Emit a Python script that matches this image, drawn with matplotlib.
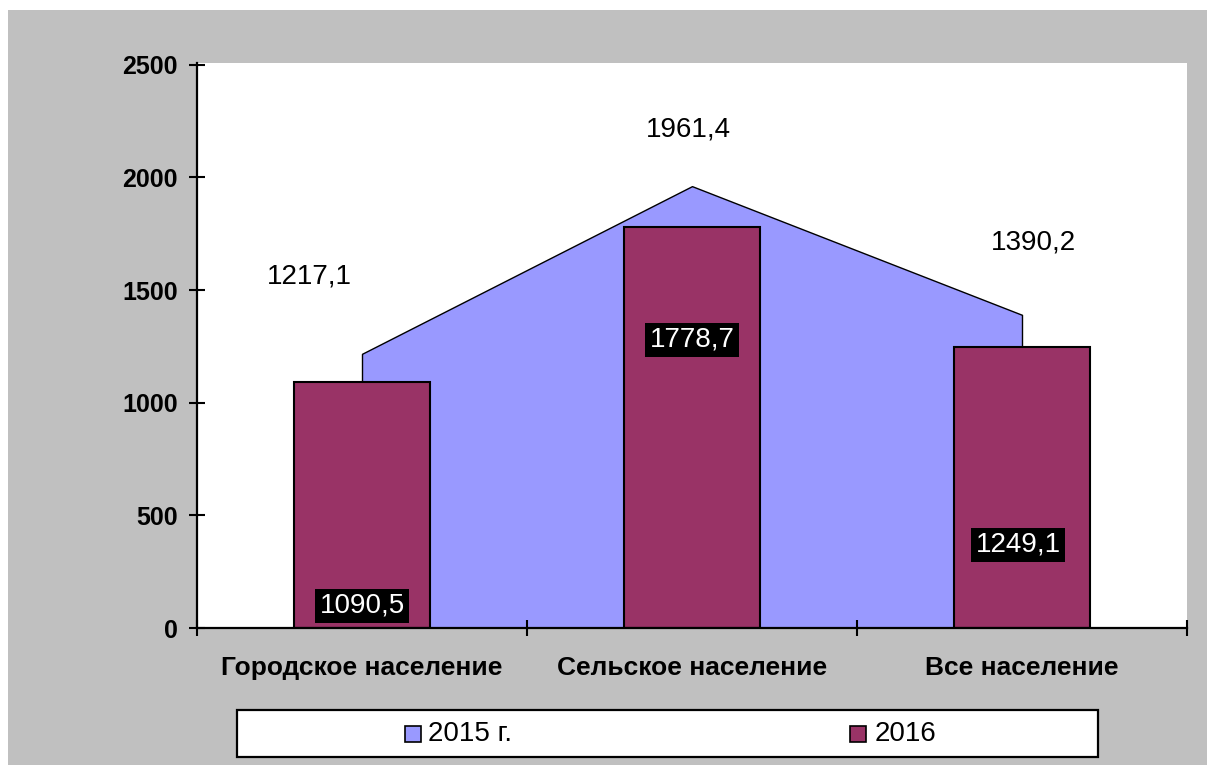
import numpy as np
import matplotlib
matplotlib.use('Agg')
import matplotlib.pyplot as plt
from matplotlib.patches import Rectangle

plt.rcParams['font.family'] = ['Liberation Sans', 'DejaVu Sans']

# data
categories = ['Городское население', 'Сельское население', 'Все население']
vals_2015 = [1217.1, 1961.4, 1390.2]
vals_2016 = [1090.5, 1778.7, 1249.1]
labels_2015 = ['1217,1', '1961,4', '1390,2']
labels_2016 = ['1090,5', '1778,7', '1249,1']
series_names = ['2015 г.', '2016']

# where the value labels sit (data units)
pos_2015 = [(-0.158, 1559), (0.988, 2211), (2.036, 1710)]
pos_2016 = [(0.0, 98), (1.0, 1279), (1.988, 369)]

c_area = '#9999ff'
c_bar = '#993366'
c_bg = '#c0c0c0'

W, H = 1207, 765
fig = plt.figure(figsize=(W / 100, H / 100), dpi=100)
fig.patch.set_facecolor('white')

def fx(px):
    return px / W

def fy(py):
    return 1 - py / H

# gray chart area
fig.patches.append(Rectangle((fx(8), 0), 1 - fx(8), fy(10), transform=fig.transFigure,
                             facecolor=c_bg, edgecolor='none', zorder=-10))

ax = fig.add_axes([fx(197), fy(628), fx(1187) - fx(197), fy(63) - fy(628)])
ax.set_facecolor('white')

x = np.arange(len(categories))
ax.fill_between(x, vals_2015, 0, facecolor=c_area, edgecolor='black', linewidth=1.0, zorder=1)
ax.bar(x, vals_2016, width=0.41, color=c_bar, edgecolor='black', linewidth=1.5, zorder=2)

ax.set_xlim(-0.5, 2.5)
ax.set_ylim(0, 2508)

for s in ['top', 'right']:
    ax.spines[s].set_visible(False)
for s in ['left', 'bottom']:
    ax.spines[s].set_linewidth(1.6)
    ax.spines[s].set_zorder(5)

ax.set_yticks(np.arange(0, 2501, 500))
ax.set_yticklabels([str(v) for v in range(0, 2501, 500)], fontsize=18, fontweight='bold')
ax.tick_params(axis='y', direction='inout', length=12, width=1.5, pad=8)

ax.set_xticks([-0.5, 0.5, 1.5, 2.5])
ax.set_xticklabels([])
ax.set_xticks(x, minor=True)
ax.set_xticklabels(categories, minor=True, fontsize=19, fontweight='bold')
ax.tick_params(axis='x', which='major', direction='inout', length=12, width=1.5)
ax.tick_params(axis='x', which='minor', length=0, pad=20)

for (px, py), t in zip(pos_2015, labels_2015):
    ax.text(px, py, t, fontsize=20, ha='center', va='center', color='black', zorder=6)
for (px, py), t in zip(pos_2016, labels_2016):
    ax.text(px, py, t, fontsize=20, ha='center', va='center', color='white', zorder=6,
            bbox=dict(facecolor='black', edgecolor='none', pad=3))

# legend box
fig.patches.append(Rectangle((fx(237), fy(757)), fx(1098) - fx(237), fy(710) - fy(757),
                             transform=fig.transFigure, facecolor='white', edgecolor='black',
                             linewidth=1.6, zorder=5))
for sx, tx, col, name in [(405, 428, c_area, series_names[0]), (850, 875, c_bar, series_names[1])]:
    fig.patches.append(Rectangle((fx(sx), fy(742)), fx(16), 16 / H, transform=fig.transFigure,
                                 facecolor=col, edgecolor='black', linewidth=1.2, zorder=6))
    fig.text(fx(tx), fy(734), name, fontsize=20, ha='left', va='center', zorder=7)

fig.savefig('out.png', dpi=100)
